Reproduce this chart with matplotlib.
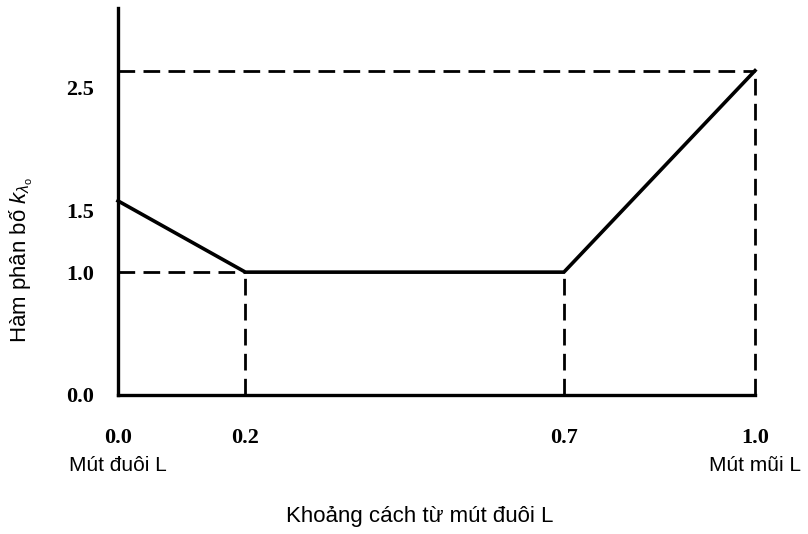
import matplotlib
matplotlib.use("Agg")
import matplotlib.pyplot as plt
from matplotlib.transforms import blended_transform_factory

plt.rcParams['font.family'] = ['Liberation Sans', 'DejaVu Sans']
plt.rcParams['mathtext.fontset'] = 'custom'
plt.rcParams['mathtext.rm'] = 'Liberation Sans'
plt.rcParams['mathtext.it'] = 'Liberation Sans:italic'

# distance from tail (fraction of L) and distribution function value
x_pts = [0.0, 0.2, 0.7, 1.0]
k_pts = [1.58, 1.0, 1.0, 2.64]

x_ticks = [0.0, 0.2, 0.7, 1.0]
x_tick_labels = ["0.0", "0.2", "0.7", "1.0"]
y_ticks = [0.0, 1.0, 1.5, 2.5]
y_tick_labels = ["0.0", "1.0", "1.5", "2.5"]

end_labels = ["Mút đuôi L", "Mút mũi L"]
end_pos = [0.0, 1.0]

x_title = "Khoảng cách từ mút đuôi L"
y_title = r"Hàm phân bố $k_{\lambda_{\mathrm{o}}}$"

fig = plt.figure(figsize=(8.08, 5.34), dpi=100)
ax = fig.add_axes([118 / 808, 1 - 395 / 534, 637 / 808, 387 / 534])

dash = dict(color="black", lw=2.0, dashes=(6, 3), clip_on=False)
# guide lines
ax.plot([0, x_pts[1]], [k_pts[1], k_pts[1]], **dash)
ax.plot([x_pts[1], x_pts[1]], [0, k_pts[1]], **dash)
ax.plot([x_pts[2], x_pts[2]], [0, k_pts[2]], **dash)
ax.plot([0, x_pts[3]], [k_pts[3], k_pts[3]], **dash)
ax.plot([x_pts[3], x_pts[3]], [0, k_pts[3]], **dash)

ax.plot(x_pts, k_pts, color="black", lw=2.6, solid_joinstyle="miter", clip_on=False)

ax.set_xlim(0, 1.0)
ax.set_ylim(0, 3.15)
for s in ["top", "right"]:
    ax.spines[s].set_visible(False)
for s in ["left", "bottom"]:
    ax.spines[s].set_linewidth(2.4)

ax.set_xticks(x_ticks)
ax.set_xticklabels(x_tick_labels, family="Liberation Serif", weight="bold", fontsize=16)
ax.set_yticks(y_ticks)
ax.set_yticklabels(y_tick_labels, family="Liberation Serif", weight="bold", fontsize=16)
ax.tick_params(axis="x", length=0, pad=24)
ax.tick_params(axis="y", length=0, pad=17)

trans = blended_transform_factory(ax.transData, ax.transAxes)
for xp, lab in zip(end_pos, end_labels):
    ax.text(xp, -0.181, lab, transform=trans, ha="center", va="center", fontsize=15)

ax.set_xlabel(x_title, fontsize=16)
ax.xaxis.set_label_coords(0.474, -0.313)
ax.xaxis.label.set_va("center")

ax.set_ylabel(y_title, fontsize=16)
ax.yaxis.set_label_coords(-0.152, 0.349)
ax.yaxis.label.set_va("center")

fig.savefig("out.png", dpi=100)
